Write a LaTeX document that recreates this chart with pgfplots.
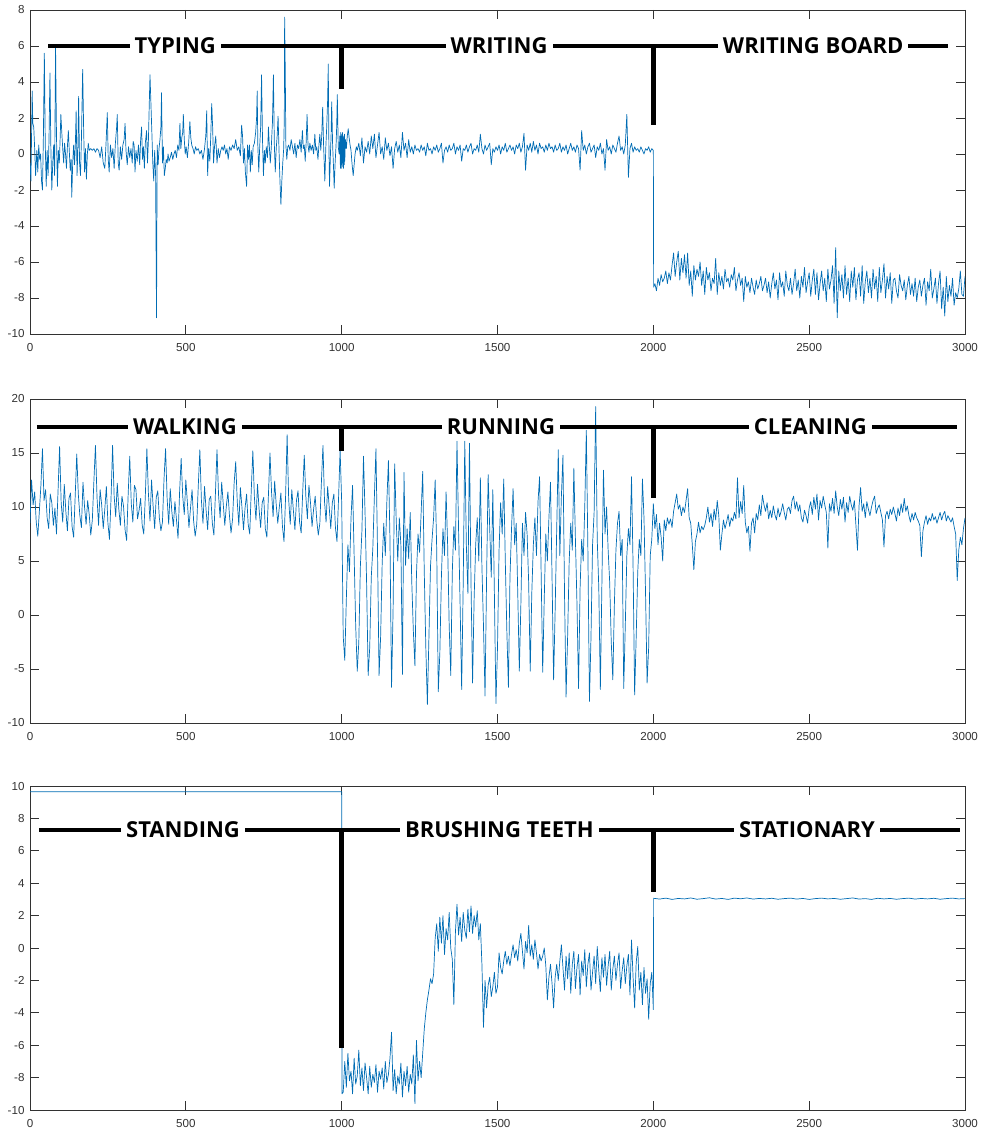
\documentclass[border=0pt]{standalone}
\usepackage{fontspec}
\setmainfont{Liberation Sans}
\newfontfamily\annfont{Open Sans}
\usepackage{pgfplots}
\pgfplotsset{compat=1.18}
\definecolor{mblue}{RGB}{0,108,180}
\definecolor{axgray}{RGB}{50,50,50}
\pgfplotsset{
  panel/.style={
    scale only axis, width=935pt, height=324pt,
    xmin=0, xmax=3000,
    xtick={0,500,1000,1500,2000,2500,3000},
    tick align=inside,
    major tick length=9pt,
    axis line style={axgray, line width=0.8pt},
    every tick/.style={axgray, line width=0.8pt},
    tick label style={font=\fontsize{11.6}{13}\selectfont, text=axgray},
    /pgf/number format/assume math mode=true,
    /pgf/number format/1000 sep={},
    scaled ticks=false,
    xticklabel style={yshift=-6pt},
    yticklabel style={xshift=-2pt},
    anchor=north west,
  },
  sig/.style={mblue, line width=0.7pt, line join=round, mark=none},
}
\tikzset{
  ann/.style={line width=4.5pt, black},
  lbl/.style={fill=white, inner xsep=5pt, inner ysep=2pt, text=black, font=\annfont\bfseries\fontsize{22}{24}\selectfont},
}
\begin{document}
\begin{tikzpicture}
\path (0,0) rectangle (987pt,-1134pt);
% ---------------- Panel 1 ----------------
\begin{axis}[panel, at={(30pt,-10pt)}, ymin=-10, ymax=8, ytick={-10,-8,-6,-4,-2,0,2,4,6,8}]
\addplot[sig] coordinates {
(0,-0.5)(3,-1.5)(7,3.5)(9,1.7)(12,1.5)(15,0.3)(18,-1.2)(22,0.2)(25,-1.0)(28,0.5)(31,-0.3)(34,0.0)(37,-1.5)(40,-2.0)(43,1.0)(46,5.6)(49,0.5)(52,-1.8)(55,0.2)(58,-1.2)(61,0.8)(64,4.5)(67,0.3)(70,-2.0)(73,-0.5)(76,0.5)(79,-1.2)(82,6.0)(85,1.0)(88,-1.8)(91,0.2)(94,-0.5)(97,1.0)(99,2.2)(102,1.2)(105,0.3)(108,-0.5)(111,0.6)(114,0.0)(117,-0.8)(120,0.4)(123,1.3)(126,0.2)(129,-0.9)(132,-0.3)(134,-2.4)(137,-0.5)(140,0.5)(143,-0.6)(146,0.8)(148,2.4)(151,-1.2)(154,0.5)(156,3.2)(159,-0.5)(162,-1.2)(165,0.8)(169,4.7)(172,1.5)(175,-1.0)(178,0.3)(181,-1.4)(184,0.0)(187,0.6)(190,0.2)(195,0.3)(200,0.2)(205,0.3)(210,0.1)(215,0.3)(220,0.2)(225,-0.2)(230,0.4)(235,-0.5)(240,-0.8)(244,0.6)(248,2.3)(251,-0.3)(254,-1.0)(258,0.5)(262,-0.2)(266,0.3)(270,-0.8)(274,0.6)(278,1.5)(280,2.2)(283,-0.5)(286,-0.9)(290,0.4)(294,-0.3)(298,0.5)(302,0.8)(305,1.7)(308,0.2)(312,-0.6)(316,0.4)(320,-0.2)(324,0.3)(328,-0.5)(331,0.7)(334,0.5)(337,-1.0)(340,0.2)(344,-0.4)(348,0.5)(352,-0.6)(355,0.8)(358,1.5)(361,-0.3)(364,0.4)(367,-0.8)(370,0.6)(374,1.3)(377,-0.5)(380,0.8)(383,3.0)(385,4.4)(388,2.8)(391,1.2)(394,-0.5)(397,-1.5)(400,0.2)(403,-1.2)(406,-9.1)(408,0.5)(411,-0.6)(414,0.3)(417,0.8)(420,1.5)(422,3.4)(425,-0.5)(428,0.4)(431,-1.2)(434,-0.8)(437,-0.3)(440,-0.5)(443,0.0)(446,-0.4)(450,-0.2)(454,0.1)(458,-0.3)(462,0.0)(466,0.2)(470,-0.2)(474,0.5)(478,0.2)(481,1.7)(484,0.3)(487,0.9)(490,1.2)(492,2.2)(495,0.8)(498,0.0)(501,0.4)(505,-0.2)(509,0.6)(513,1.8)(516,0.9)(519,0.5)(523,0.3)(527,0.0)(531,0.4)(535,0.2)(540,0.3)(545,0.0)(550,0.2)(555,-0.3)(560,0.3)(564,1.0)(567,2.4)(570,-1.2)(573,0.3)(577,-0.4)(580,1.0)(583,2.8)(586,1.5)(589,-0.5)(592,0.4)(596,1.0)(600,-0.5)(604,0.3)(608,-0.2)(612,0.2)(616,0.4)(620,0.2)(624,0.5)(628,0.0)(632,0.3)(636,-0.3)(640,0.4)(645,0.2)(650,0.5)(655,0.3)(660,0.8)(665,0.2)(670,0.4)(675,-0.1)(679,1.6)(682,1.0)(685,-0.5)(688,0.3)(691,-1.0)(695,-1.8)(698,0.5)(701,-0.3)(704,0.5)(707,-1.0)(710,0.2)(713,-0.6)(716,0.4)(720,0.6)(724,1.2)(727,2.0)(729,3.5)(731,0.5)(734,-1.0)(737,0.4)(740,1.5)(743,4.4)(746,0.8)(749,-1.2)(752,0.2)(755,-0.5)(758,0.4)(762,-0.2)(765,1.5)(768,0.4)(771,-0.5)(774,0.3)(778,1.8)(781,4.4)(784,0.5)(787,-1.0)(790,0.3)(793,1.0)(796,2.1)(799,0.2)(802,-1.5)(805,-2.8)(808,-1.5)(811,-0.5)(814,0.3)(816,2.0)(817,7.6)(819,4.6)(821,0.5)(824,-0.3)(827,0.4)(830,0.5)(834,0.2)(838,0.8)(842,0.4)(846,0.0)(850,0.6)(854,-0.2)(858,0.5)(862,0.3)(866,0.8)(870,0.1)(874,1.3)(877,0.3)(880,0.5)(883,-0.4)(886,0.6)(889,2.2)(892,0.5)(895,0.1)(898,0.6)(902,0.2)(906,0.5)(910,0.0)(914,1.1)(917,0.2)(920,0.4)(924,-0.3)(927,0.5)(930,1.1)(933,0.2)(936,1.0)(939,2.6)(942,0.5)(946,-1.5)(949,0.3)(952,1.5)(955,3.0)(957,5.0)(959,0.5)(961,-1.8)(964,0.0)(966,1.0)(968,2.9)(971,0.5)(974,-0.8)(976,-1.9)(979,-0.5)(982,0.5)(984,1.5)(986,3.3)(989,0.4)(992,0.0)(994,1.0)(996,-0.8)(997,1.2)(998,-0.6)(999,1.0)(1000,-0.8)(1001,1.1)(1002,-0.7)(1003,1.2)(1004,-0.5)(1005,1.0)(1006,-0.8)(1007,0.9)(1008,-0.6)(1009,1.1)(1010,-0.4)(1012,0.8)(1015,0.3)(1018,1.0)(1021,1.4)(1024,0.9)(1027,0.5)(1030,0.2)(1033,-0.5)(1037,-1.2)(1040,-0.6)(1043,0.0)(1047,0.4)
(1050,0.2)(1055,0.6)(1060,-0.1)(1065,0.9)(1070,-0.5)(1075,0.4)(1080,0.1)(1085,0.7)(1090,0.0)(1095,1.0)
(1100,0.3)(1105,1.1)(1110,-0.2)(1115,0.5)(1120,1.2)(1125,0.0)(1130,0.4)(1135,-0.3)(1140,0.9)(1145,0.2)
(1150,0.6)(1155,-0.1)(1160,0.4)(1165,-0.8)(1170,0.3)(1175,0.7)(1180,0.1)(1185,0.5)(1190,-0.2)(1195,1.2)
(1200,0.2)(1205,0.6)(1210,-0.2)(1215,0.8)(1220,0.1)(1225,0.4)(1230,0.0)(1235,0.5)(1240,0.2)(1245,0.3)
(1250,0.1)(1255,0.5)(1260,0.2)(1265,0.4)(1270,-0.1)(1275,0.6)(1280,0.2)(1285,0.3)(1290,0.0)(1295,0.4)
(1300,0.2)(1305,0.5)(1310,0.1)(1315,0.3)(1320,0.6)(1325,-0.5)(1330,0.2)(1335,0.4)(1340,0.1)(1345,0.5)
(1350,0.2)(1355,0.3)(1360,0.6)(1365,0.0)(1370,0.4)(1375,0.2)(1380,0.5)(1385,-0.4)(1390,0.3)(1395,0.2)
(1400,0.5)(1405,0.1)(1410,0.4)(1415,0.6)(1420,0.0)(1425,0.3)(1430,0.2)(1435,0.5)(1440,0.1)(1445,1.1)
(1450,0.3)(1455,0.0)(1460,0.5)(1465,0.2)(1470,0.4)(1475,0.6)(1480,-0.6)(1485,0.3)(1490,0.1)(1495,0.4)
(1500,0.2)(1505,0.5)(1510,0.0)(1515,0.4)(1520,0.2)(1525,0.6)(1530,0.1)(1535,0.3)(1540,0.5)(1545,0.2)
(1550,0.4)(1555,0.0)(1560,0.5)(1565,0.3)(1570,0.6)(1575,0.1)(1580,0.4)(1585,1.15)(1590,-0.9)(1595,0.5)
(1600,0.2)(1605,0.6)(1610,0.1)(1615,0.7)(1620,0.2)(1625,0.5)(1630,0.0)(1635,0.6)(1640,0.3)(1645,0.4)
(1650,0.1)(1655,0.5)(1660,0.2)(1665,0.6)(1670,0.3)(1675,0.4)(1680,0.1)(1685,0.5)(1690,0.2)(1695,0.3)
(1700,0.6)(1705,0.1)(1710,0.4)(1715,0.2)(1720,0.5)(1725,0.0)(1730,0.3)(1735,0.6)(1740,0.2)(1745,0.4)
(1750,0.1)(1755,0.5)(1760,0.3)(1765,-0.9)(1770,1.3)(1775,0.2)(1780,0.5)(1785,0.0)(1790,0.4)(1795,0.6)
(1800,0.1)(1805,0.3)(1810,0.5)(1815,-0.2)(1820,0.4)(1825,0.2)(1830,0.6)(1835,0.0)(1840,0.3)(1845,-0.9)
(1850,0.8)(1855,0.2)(1860,0.4)(1865,0.0)(1870,0.5)(1875,0.3)(1880,0.1)(1885,0.6)(1890,1.0)(1895,0.2)
(1900,0.4)(1905,0.0)(1910,0.5)(1915,2.2)(1920,-1.3)(1925,0.3)(1930,0.6)(1935,0.1)(1940,0.4)(1945,0.2)
(1950,0.3)(1955,0.1)(1960,0.4)(1965,0.2)(1970,0.0)(1975,0.3)(1980,0.2)(1985,0.4)(1990,0.1)(1995,0.3)
(2000,0.2)(2001,-7.4)
(2005,-7.2)(2010,-7.6)(2015,-6.9)(2020,-7.3)(2025,-6.7)(2030,-7.1)(2035,-6.9)(2040,-6.5)(2045,-7.2)(2050,-6.6)
(2055,-7.0)(2060,-6.2)(2065,-5.5)(2070,-6.8)(2075,-6.0)(2080,-5.4)(2085,-7.0)(2090,-5.8)(2095,-6.6)(2100,-5.6)
(2105,-6.9)(2110,-5.5)(2115,-7.3)(2120,-6.5)(2125,-7.9)(2130,-6.2)(2135,-7.0)(2140,-6.4)(2145,-6.8)(2150,-6.0)
(2155,-7.3)(2160,-6.5)(2165,-7.8)(2170,-6.3)(2175,-7.0)(2180,-6.6)(2185,-7.6)(2190,-6.9)(2195,-7.2)(2200,-5.8)
(2205,-7.8)(2210,-6.6)(2215,-7.3)(2220,-6.8)(2225,-7.5)(2230,-6.4)(2235,-7.1)(2240,-6.9)(2245,-7.4)(2250,-6.7)
(2255,-7.0)(2260,-6.3)(2265,-7.6)(2270,-7.0)(2275,-6.6)(2280,-7.3)(2285,-6.9)(2290,-8.2)(2295,-6.8)(2300,-7.4)
(2305,-7.1)(2310,-7.7)(2315,-6.9)(2320,-7.4)(2325,-7.8)(2330,-7.0)(2335,-7.5)(2340,-7.2)(2345,-6.8)(2350,-7.6)
(2355,-7.3)(2360,-6.9)(2365,-7.7)(2370,-7.1)(2375,-8.0)(2380,-7.2)(2385,-6.6)(2390,-7.5)(2395,-7.0)(2400,-8.1)
(2405,-6.6)(2410,-7.4)(2415,-7.1)(2420,-7.9)(2425,-6.5)(2430,-7.3)(2435,-7.6)(2440,-6.9)(2445,-7.8)(2450,-7.2)
(2455,-6.4)(2460,-7.6)(2465,-7.0)(2470,-8.0)(2475,-6.8)(2480,-7.4)(2485,-6.3)(2490,-7.7)(2495,-7.1)(2500,-6.6)
(2505,-7.9)(2510,-7.0)(2515,-6.4)(2520,-7.8)(2525,-6.6)(2530,-8.1)(2535,-7.2)(2540,-6.5)(2545,-7.6)(2550,-6.9)
(2555,-8.2)(2560,-6.4)(2565,-7.5)(2570,-7.0)(2575,-6.2)(2580,-8.3)(2585,-5.2)(2590,-9.1)(2595,-6.5)(2600,-7.6)
(2605,-6.7)(2610,-8.0)(2615,-6.2)(2620,-7.8)(2625,-6.9)(2630,-8.2)(2635,-6.5)(2640,-7.4)(2645,-6.3)(2650,-8.1)
(2655,-7.0)(2660,-6.6)(2665,-7.9)(2670,-6.2)(2675,-8.3)(2680,-7.1)(2685,-6.5)(2690,-7.7)(2695,-6.9)(2700,-8.0)
(2705,-6.4)(2710,-7.5)(2715,-6.8)(2720,-8.2)(2725,-6.3)(2730,-7.7)(2735,-7.0)(2740,-6.1)(2745,-8.0)(2750,-6.8)
(2755,-7.5)(2760,-6.6)(2765,-8.3)(2770,-7.0)(2775,-6.9)(2780,-7.6)(2785,-8.0)(2790,-6.7)(2795,-7.3)(2800,-7.6)
(2805,-7.0)(2810,-8.1)(2815,-7.3)(2820,-6.8)(2825,-7.8)(2830,-7.2)(2835,-7.9)(2840,-6.9)(2845,-8.2)(2850,-7.4)
(2855,-7.0)(2860,-7.9)(2865,-7.3)(2870,-6.9)(2875,-8.4)(2880,-7.1)(2885,-7.6)(2890,-6.4)(2895,-8.0)(2900,-7.5)
(2905,-6.9)(2910,-8.3)(2915,-7.2)(2920,-6.5)(2925,-8.6)(2930,-7.4)(2935,-9.0)(2940,-6.8)(2945,-8.2)(2950,-7.3)
(2955,-7.9)(2960,-6.9)(2965,-8.4)(2970,-7.7)(2975,-8.0)(2980,-7.5)(2985,-6.5)(2990,-7.8)(2995,-7.9)(3000,-6.8)
};
\draw[ann] (axis cs:58,6) -- (axis cs:2945,6);
\draw[ann] (axis cs:1000,6) -- (axis cs:1000,3.6);
\draw[ann] (axis cs:2000,6) -- (axis cs:2000,1.6);
\node[lbl] at (axis cs:466,6) {TYPING};
\node[lbl] at (axis cs:1505,6) {WRITING};
\node[lbl] at (axis cs:2513,6) {WRITING BOARD};
\end{axis}
% ---------------- Panel 2 ----------------
\begin{axis}[panel, at={(30pt,-399pt)}, ymin=-10, ymax=20, ytick={-10,-5,0,5,10,15,20}]
\addplot[sig] coordinates {
(0,8.5)(5,12.5)(10,10.2)(15,11.4)(20,8.6)(25,7.3)(30,9.6)(35,12.0)(40,15.4)
(45,10.6)(50,11.6)(55,9.0)(60,8.0)(65,11.2)(70,10.4)(75,8.3)(80,9.9)(85,7.5)(90,11.5)(95,15.6)
(100,10.4)(105,8.6)(110,12.1)(115,9.6)(120,7.8)(125,10.8)(130,11.3)(135,8.2)(140,7.2)(145,11.0)(150,14.9)
(155,11.2)(160,9.2)(165,8.1)(170,12.3)(175,10.0)(180,8.4)(185,10.6)(190,9.3)(195,7.4)(200,8.8)(205,12.4)(210,15.7)
(215,10.9)(220,8.3)(225,11.6)(230,10.2)(235,8.0)(240,9.8)(245,11.9)(250,8.5)(255,7.0)(260,10.8)(265,15.7)
(270,11.0)(275,9.1)(280,12.2)(285,9.8)(290,8.3)(295,11.0)(300,10.1)(305,7.9)(310,6.9)(315,11.2)(320,14.7)
(325,10.3)(330,8.6)(335,12.0)(340,11.6)(345,8.9)(350,9.7)(355,10.8)(360,8.3)(365,7.5)(370,11.0)(375,15.4)
(380,11.2)(385,8.7)(390,12.5)(395,10.1)(400,8.0)(405,10.9)(410,11.5)(415,9.0)(420,7.8)(425,8.6)(430,12.6)(435,15.4)
(440,10.8)(445,8.4)(450,11.7)(455,9.6)(460,8.2)(465,10.5)(470,8.8)(475,7.1)(480,11.4)(485,14.5)
(490,11.0)(495,9.3)(500,12.5)(505,10.4)(510,8.1)(515,9.9)(520,11.6)(525,8.7)(530,7.3)(535,8.4)(540,12.0)(545,15.3)
(550,10.6)(555,8.5)(560,11.9)(565,9.7)(570,7.9)(575,10.7)(580,11.0)(585,8.5)(590,7.4)(595,11.3)(600,15.3)
(605,11.1)(610,9.0)(615,12.3)(620,10.3)(625,8.3)(630,10.1)(635,11.4)(640,9.2)(645,7.6)(650,8.9)(655,12.2)(660,14.2)
(665,10.5)(670,8.3)(675,11.8)(680,10.0)(685,7.9)(690,9.9)(695,11.2)(700,8.4)(705,7.5)(710,11.6)(715,15.2)
(720,10.9)(725,8.8)(730,12.1)(735,9.8)(740,8.1)(745,10.4)(750,10.9)(755,8.0)(760,7.2)(765,11.1)(770,15.0)
(775,11.4)(780,9.1)(785,12.4)(790,10.2)(795,8.5)(800,10.0)(805,11.3)(810,8.2)(815,6.8)(820,10.9)(825,16.7)
(830,10.7)(835,8.4)(840,11.6)(845,9.7)(850,7.9)(855,10.6)(860,11.5)(865,8.6)(870,7.6)(875,11.4)(880,14.8)
(885,11.0)(890,8.9)(895,12.0)(900,10.4)(905,8.2)(910,9.8)(915,11.0)(920,8.8)(925,7.4)(930,8.5)(935,12.3)(940,15.7)
(945,10.5)(950,8.6)(955,11.9)(960,10.0)(965,8.0)(970,10.4)(975,11.2)(980,8.1)(985,6.8)(990,10.8)(995,15.3)(1000,10.5)
(1005,-2.0)(1010,-4.2)(1015,1.5)(1020,6.5)(1025,4.0)(1030,9.0)(1035,12.0)(1040,5.5)(1045,-1.0)(1050,-5.2)
(1055,-2.5)(1060,4.5)(1065,7.8)(1070,14.7)(1075,9.5)(1080,3.0)(1085,-5.6)(1090,-3.0)(1095,3.5)(1100,6.2)
(1105,11.0)(1110,15.4)(1115,6.0)(1120,-5.6)(1125,-2.0)(1130,4.8)(1135,8.5)(1140,5.5)(1145,10.5)(1150,14.3)
(1155,7.0)(1160,-6.7)(1165,0.5)(1170,14.0)(1175,8.8)(1180,5.0)(1185,9.0)(1190,6.5)(1195,-5.5)(1200,13.2)
(1205,4.6)(1210,8.0)(1215,5.2)(1220,9.5)(1225,3.0)(1230,-1.5)(1235,-4.7)(1240,3.8)(1245,7.5)(1250,5.8)
(1255,9.5)(1260,13.3)(1265,4.0)(1270,-3.0)(1275,-8.3)(1280,-2.0)(1285,4.5)(1290,7.0)(1295,9.0)(1300,12.5)
(1305,6.0)(1310,-7.1)(1315,-3.5)(1320,3.5)(1325,8.0)(1330,5.5)(1335,11.4)(1340,6.5)(1345,-1.0)(1350,-5.6)
(1355,4.0)(1360,8.2)(1365,6.0)(1370,16.1)(1375,8.0)(1380,1.0)(1385,-6.9)(1390,3.0)(1395,16.1)(1400,6.5)
(1405,2.0)(1410,15.9)(1415,3.0)(1420,-6.3)(1425,1.5)(1430,6.5)(1435,9.0)(1440,5.0)(1445,12.7)(1450,4.5)
(1455,-1.0)(1460,-7.5)(1465,3.5)(1470,13.0)(1475,8.0)(1480,3.5)(1485,11.6)(1490,2.0)(1495,-8.2)(1500,-3.0)
(1505,6.0)(1510,10.4)(1515,7.5)(1520,12.6)(1525,5.0)(1530,-1.5)(1535,-6.7)(1540,3.5)(1545,8.0)(1550,11.7)
(1555,6.5)(1560,8.5)(1565,2.0)(1570,-5.2)(1575,1.0)(1580,8.5)(1585,5.5)(1590,9.5)(1595,7.5)(1600,3.0)
(1605,-5.2)(1610,2.0)(1615,6.5)(1620,9.0)(1625,5.5)(1630,10.5)(1635,12.8)(1640,4.0)(1645,-5.3)(1650,1.5)
(1655,7.5)(1660,5.0)(1665,9.0)(1670,12.3)(1675,3.5)(1680,-6.0)(1685,0.5)(1690,8.0)(1695,15.3)(1700,5.5)
(1705,11.0)(1710,14.8)(1715,2.0)(1720,-7.6)(1725,-2.0)(1730,5.0)(1735,8.5)(1740,6.0)(1745,13.6)(1750,7.0)
(1755,1.0)(1760,-6.8)(1765,2.5)(1770,7.0)(1775,5.0)(1780,10.0)(1785,17.1)(1790,6.0)(1795,-8.0)(1800,-2.0)
(1805,6.5)(1810,9.5)(1815,19.3)(1820,7.0)(1825,2.5)(1830,-6.9)(1835,3.0)(1840,13.4)(1845,7.5)(1850,10.0)
(1855,6.0)(1860,3.0)(1865,-2.5)(1870,-6.0)(1875,1.0)(1880,6.0)(1885,8.5)(1890,9.6)(1895,5.5)(1900,7.0)
(1905,-6.8)(1910,-1.0)(1915,5.5)(1920,8.0)(1925,6.5)(1930,12.8)(1935,4.5)(1940,-7.4)(1945,-2.0)(1950,4.0)
(1955,7.0)(1960,5.5)(1965,12.6)(1970,9.0)(1975,2.0)(1980,-6.3)(1985,-3.0)(1990,5.5)(1995,7.0)(2000,10.3)
(2005,8.0)(2010,9.3)(2015,6.5)(2020,8.5)(2025,7.2)(2030,5.0)(2035,8.8)(2040,7.8)(2045,9.0)(2050,8.4)
(2055,8.9)(2060,8.1)(2065,9.6)(2070,10.4)(2075,11.2)(2080,9.8)(2085,10.2)(2090,9.2)(2095,10.0)(2100,9.5)
(2105,10.6)(2110,11.7)(2115,9.0)(2120,8.5)(2125,6.5)(2130,4.2)(2135,6.8)(2140,7.5)(2145,8.6)(2150,7.6)
(2155,8.2)(2160,7.9)(2165,8.3)(2170,9.0)(2175,10.0)(2180,8.6)(2185,9.4)(2190,8.2)(2195,9.8)(2200,8.8)
(2205,10.6)(2210,9.2)(2215,6.0)(2220,7.5)(2225,8.8)(2230,8.0)(2235,8.6)(2240,9.3)(2245,8.2)(2250,9.0)
(2255,8.7)(2260,9.5)(2265,8.9)(2270,12.7)(2275,9.0)(2280,10.5)(2285,9.4)(2290,12.0)(2295,8.6)(2300,7.6)
(2305,8.2)(2310,5.9)(2315,8.5)(2320,9.0)(2325,7.6)(2330,9.4)(2335,8.8)(2340,10.2)(2345,9.2)(2350,11.1)
(2355,10.2)(2360,9.6)(2365,10.4)(2370,8.9)(2375,9.7)(2380,9.0)(2385,10.1)(2390,9.3)(2395,8.8)(2400,9.9)
(2405,9.1)(2410,9.6)(2415,10.3)(2420,9.5)(2425,8.8)(2430,9.8)(2435,10.0)(2440,9.4)(2445,10.6)(2450,11.0)
(2455,9.8)(2460,10.5)(2465,9.6)(2470,10.2)(2475,9.0)(2480,8.6)(2485,9.7)(2490,9.2)(2495,8.5)(2500,9.9)
(2505,10.5)(2510,9.3)(2515,10.9)(2520,9.8)(2525,11.2)(2530,8.8)(2535,10.6)(2540,9.9)(2545,11.0)(2550,10.2)
(2555,9.5)(2560,6.2)(2565,10.3)(2570,9.6)(2575,10.8)(2580,9.4)(2585,11.5)(2590,10.0)(2595,9.2)(2600,10.7)
(2605,9.8)(2610,10.9)(2615,8.6)(2620,10.4)(2625,9.5)(2630,11.0)(2635,10.2)(2640,9.7)(2645,10.6)(2650,8.3)
(2655,6.0)(2660,10.1)(2665,11.8)(2670,9.6)(2675,10.3)(2680,9.0)(2685,10.5)(2690,9.8)(2695,9.2)(2700,10.0)
(2705,10.6)(2710,11.0)(2715,9.4)(2720,9.9)(2725,10.2)(2730,9.5)(2735,8.8)(2740,6.3)(2745,9.2)(2750,9.6)
(2755,8.9)(2760,9.8)(2765,9.3)(2770,10.0)(2775,9.4)(2780,8.7)(2785,9.9)(2790,9.2)(2795,10.3)(2800,9.5)
(2805,10.8)(2810,9.6)(2815,10.1)(2820,9.2)(2825,8.6)(2830,9.4)(2835,8.8)(2840,9.5)(2845,9.0)(2850,8.7)
(2855,8.3)(2860,5.4)(2865,7.8)(2870,8.6)(2875,9.2)(2880,8.4)(2885,9.0)(2890,8.7)(2895,9.4)(2900,8.8)
(2905,9.1)(2910,8.5)(2915,9.0)(2920,9.5)(2925,8.8)(2930,9.3)(2935,9.6)(2940,8.7)(2945,9.2)(2950,8.9)
(2955,8.6)(2960,9.0)(2965,8.2)(2970,7.5)(2975,3.2)(2980,6.0)(2985,7.2)(2990,6.5)(2995,8.0)(3000,9.0)
};
\draw[ann] (axis cs:22,17.4) -- (axis cs:2975,17.4);
\draw[ann] (axis cs:1000,17.4) -- (axis cs:1000,15.2);
\draw[ann] (axis cs:2000,17.4) -- (axis cs:2000,10.8);
\node[lbl] at (axis cs:497,17.4) {WALKING};
\node[lbl] at (axis cs:1511,17.4) {RUNNING};
\node[lbl] at (axis cs:2504,17.4) {CLEANING};
\end{axis}
% ---------------- Panel 3 ----------------
\begin{axis}[panel, at={(30pt,-786pt)}, ymin=-10, ymax=10, ytick={-10,-8,-6,-4,-2,0,2,4,6,8,10}]
\addplot[sig] coordinates {
(0,9.65)(1000,9.65)(1001,-9.0)
(1005,-8.9)(1010,-7.0)(1015,-8.6)(1020,-6.5)(1025,-8.2)(1030,-7.6)(1035,-9.0)(1040,-6.8)(1045,-8.4)(1050,-7.9)
(1055,-6.3)(1060,-8.5)(1065,-7.4)(1070,-8.8)(1075,-7.1)(1080,-8.0)(1085,-9.0)(1090,-7.3)(1095,-8.6)(1100,-7.8)
(1105,-8.3)(1110,-7.2)(1115,-8.9)(1120,-7.6)(1125,-8.1)(1130,-7.4)(1135,-8.7)(1140,-7.0)(1145,-8.3)(1150,-7.8)
(1155,-6.8)(1160,-5.2)(1165,-8.8)(1170,-7.5)(1175,-9.0)(1180,-7.9)(1185,-8.4)(1190,-7.1)(1195,-9.2)(1200,-7.6)
(1205,-8.5)(1210,-7.3)(1215,-8.9)(1220,-7.8)(1225,-8.4)(1230,-6.6)(1235,-9.6)(1240,-5.7)(1245,-8.2)(1250,-7.0)
(1255,-8.0)(1260,-6.5)(1265,-5.0)(1270,-4.0)(1275,-3.2)(1280,-2.6)(1285,-1.9)(1290,-2.2)(1295,-1.6)(1300,0.6)
(1305,1.5)(1310,-0.2)(1315,1.9)(1320,0.3)(1325,2.0)(1330,-0.4)(1335,1.2)(1340,0.5)(1345,2.2)(1350,0.0)
(1355,-0.7)(1360,-3.5)(1365,1.0)(1370,2.7)(1375,0.8)(1380,1.9)(1385,0.4)(1390,2.2)(1395,1.1)(1400,0.6)
(1405,2.4)(1410,1.0)(1415,2.6)(1420,0.9)(1425,2.0)(1430,1.3)(1435,2.3)(1440,0.5)(1445,1.5)(1450,-1.0)
(1455,-4.9)(1460,-2.0)(1465,-3.7)(1470,-2.3)(1475,-1.8)(1480,-3.0)(1485,-2.4)(1490,-1.5)(1495,-2.8)(1500,-2.4)
(1505,-0.3)(1510,-1.2)(1515,-1.6)(1520,-0.8)(1525,-0.2)(1530,-1.0)(1535,-0.5)(1540,-1.1)(1545,-0.4)(1550,0.2)
(1555,-0.6)(1560,-0.1)(1565,-0.8)(1570,0.3)(1575,0.9)(1580,-0.2)(1585,-1.3)(1590,0.4)(1595,-0.3)(1600,1.4)
(1605,-0.5)(1610,0.2)(1615,-0.7)(1620,0.5)(1625,-0.3)(1630,-1.3)(1635,-0.4)(1640,-0.8)(1645,-0.5)(1650,0.0)
(1655,-1.1)(1660,-3.2)(1665,-1.8)(1670,-1.0)(1675,-2.2)(1680,-3.7)(1685,-1.8)(1690,-1.0)(1695,-2.0)(1700,-0.8)
(1705,0.2)(1710,-1.2)(1715,-2.6)(1720,-0.5)(1725,-1.9)(1730,-0.3)(1735,-2.8)(1740,-1.0)(1745,-0.2)(1750,-2.5)
(1755,-1.2)(1760,-0.4)(1765,-2.9)(1770,-0.8)(1775,-1.7)(1780,-0.1)(1785,-2.4)(1790,-1.0)(1795,-0.3)(1800,-2.6)
(1805,-1.5)(1810,-0.5)(1815,-2.2)(1820,0.1)(1825,-1.4)(1830,-2.7)(1835,-0.6)(1840,-1.8)(1845,-0.4)(1850,-2.3)
(1855,-1.1)(1860,-0.2)(1865,-2.6)(1870,-1.3)(1875,-0.5)(1880,-2.0)(1885,-1.0)(1890,-0.3)(1895,-2.5)(1900,-1.4)
(1905,-0.6)(1910,-2.2)(1915,-1.1)(1920,-0.4)(1925,-2.9)(1930,0.5)(1935,-1.8)(1940,-3.7)(1945,-0.9)(1950,0.1)
(1955,-2.6)(1960,-1.5)(1965,-3.5)(1970,-1.2)(1975,-2.8)(1980,-1.9)(1985,-4.4)(1990,-2.2)(1995,-1.5)(2000,-3.8)
(2001,3.07)(2020,3.02)(2040,3.08)(2060,3.0)(2080,3.06)(2100,3.03)(2120,3.09)(2140,3.01)(2160,3.05)(2180,3.1)
(2200,3.02)(2220,3.06)(2240,3.0)(2260,3.08)(2280,3.04)(2300,3.09)(2320,3.02)(2340,3.06)(2360,3.03)(2380,3.07)
(2400,3.01)(2420,3.05)(2440,3.08)(2460,3.02)(2480,3.06)(2500,3.0)(2520,3.05)(2540,3.08)(2560,3.03)(2580,3.06)
(2600,3.01)(2620,3.05)(2640,3.09)(2660,3.02)(2680,3.05)(2700,3.0)(2720,3.07)(2740,3.03)(2760,3.06)(2780,3.01)
(2800,3.05)(2820,3.08)(2840,3.02)(2860,3.06)(2880,3.03)(2900,3.07)(2920,3.01)(2940,3.05)(2960,3.08)(2980,3.03)(3000,3.05)
};
\draw[ann] (axis cs:30,7.28) -- (axis cs:2984,7.28);
\draw[ann] (axis cs:1000,7.28) -- (axis cs:1000,-6.2);
\draw[ann] (axis cs:2000,7.28) -- (axis cs:2000,3.46);
\node[lbl] at (axis cs:491,7.28) {STANDING};
\node[lbl] at (axis cs:1506,7.28) {BRUSHING TEETH};
\node[lbl] at (axis cs:2493,7.28) {STATIONARY};
\end{axis}
\end{tikzpicture}
\end{document}
